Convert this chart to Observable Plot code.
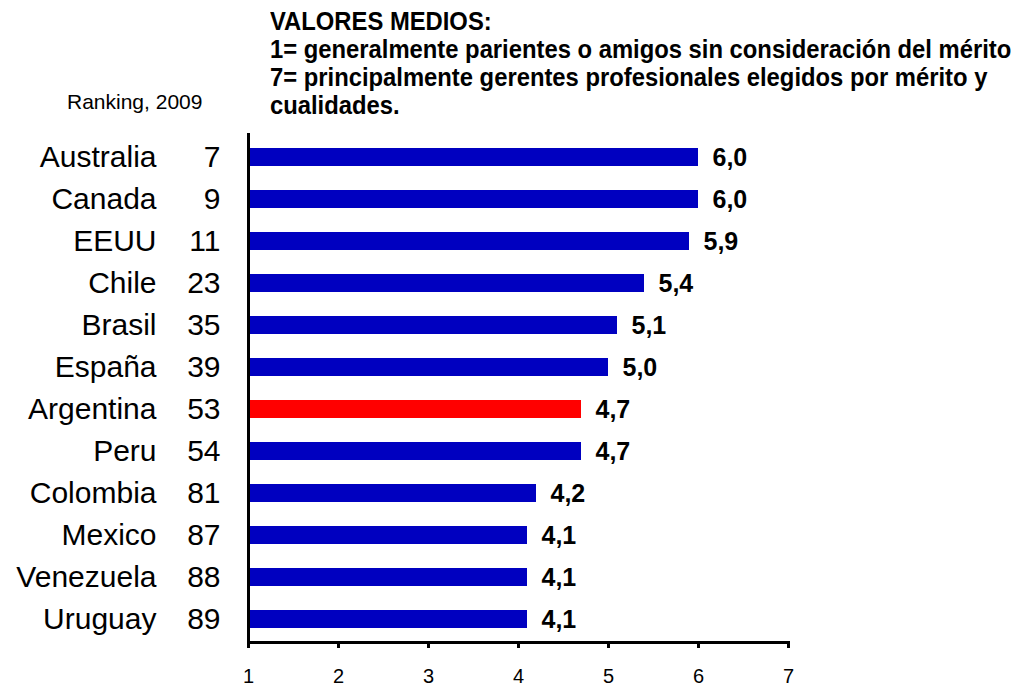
<!DOCTYPE html>
<html>
<head>
<meta charset="utf-8">
<script src="https://cdn.jsdelivr.net/npm/d3@7"></script>
<script src="https://cdn.jsdelivr.net/npm/@observablehq/plot@0.6"></script>
<style>
  html, body { margin: 0; padding: 0; background: #fff; }
  body { width: 1020px; height: 687px; overflow: hidden; font-family: "Liberation Sans", Arial, sans-serif; }
  #header { position: relative; height: 130px; }
  #title { position: absolute; left: 270px; top: 7px; font-weight: bold; font-size: 23.8px; line-height: 26px; color: #000; transform: scale(1, 1.08); transform-origin: 0 0; white-space: nowrap; }
  #rank { position: absolute; left: 67px; top: 90px; font-size: 21px; color: #000; }
</style>
</head>
<body>
<div id="header">
  <div id="title">VALORES MEDIOS:<br>1= generalmente parientes o amigos sin consideración del mérito<br>7= principalmente gerentes profesionales elegidos por mérito y<br>cualidades.</div>
  <div id="rank">Ranking, 2009</div>
</div>
<div id="chart"></div>
<script>
const countries = ["Australia", "Canada", "EEUU", "Chile", "Brasil", "España", "Argentina", "Peru", "Colombia", "Mexico", "Venezuela", "Uruguay"];
const ranks = [7, 9, 11, 23, 35, 39, 53, 54, 81, 87, 88, 89];
const values = [6.0, 6.0, 5.9, 5.4, 5.1, 5.0, 4.7, 4.7, 4.2, 4.1, 4.1, 4.1];
const highlight = "Argentina";
const xTicks = [1, 2, 3, 4, 5, 6, 7];

const data = countries.map((c, i) => ({country: c, rank: ranks[i], value: values[i]}));
const fmt = v => v.toFixed(1).replace(".", ",");

const chart = Plot.plot({
  width: 1020,
  height: 557,
  marginLeft: 248,
  marginRight: 232,
  marginTop: 4,
  marginBottom: 45,
  style: {fontFamily: "'Liberation Sans', Arial, sans-serif", background: "#fff", color: "#000"},
  x: {domain: [1, 7], label: null},
  y: {domain: countries, paddingInner: 0.58, paddingOuter: 0.29, axis: null},
  marks: [
    Plot.barX(data, {x1: 1, x2: "value", y: "country", fill: d => d.country === highlight ? "#ff0000" : "#0000c0"}),
    Plot.text(data, {x: "value", y: "country", text: d => fmt(d.value), dx: 14, textAnchor: "start", fontSize: 25, fontWeight: "bold", fill: "#000"}),
    Plot.text(data, {y: "country", text: "country", frameAnchor: "left", dx: -92, textAnchor: "end", fontSize: 30, fill: "#000"}),
    Plot.text(data, {y: "country", text: d => String(d.rank), frameAnchor: "left", dx: -28, textAnchor: "end", fontSize: 30, fill: "#000"}),
    Plot.axisX({ticks: xTicks, tickSize: 6, tickPadding: 20, fontSize: 20, label: null, tickFormat: d => String(d), strokeWidth: 3}),
    Plot.frame({anchor: "bottom", strokeWidth: 3}),
    Plot.frame({anchor: "left", strokeWidth: 3})
  ]
});
document.getElementById("chart").appendChild(chart);
</script>
</body>
</html>
